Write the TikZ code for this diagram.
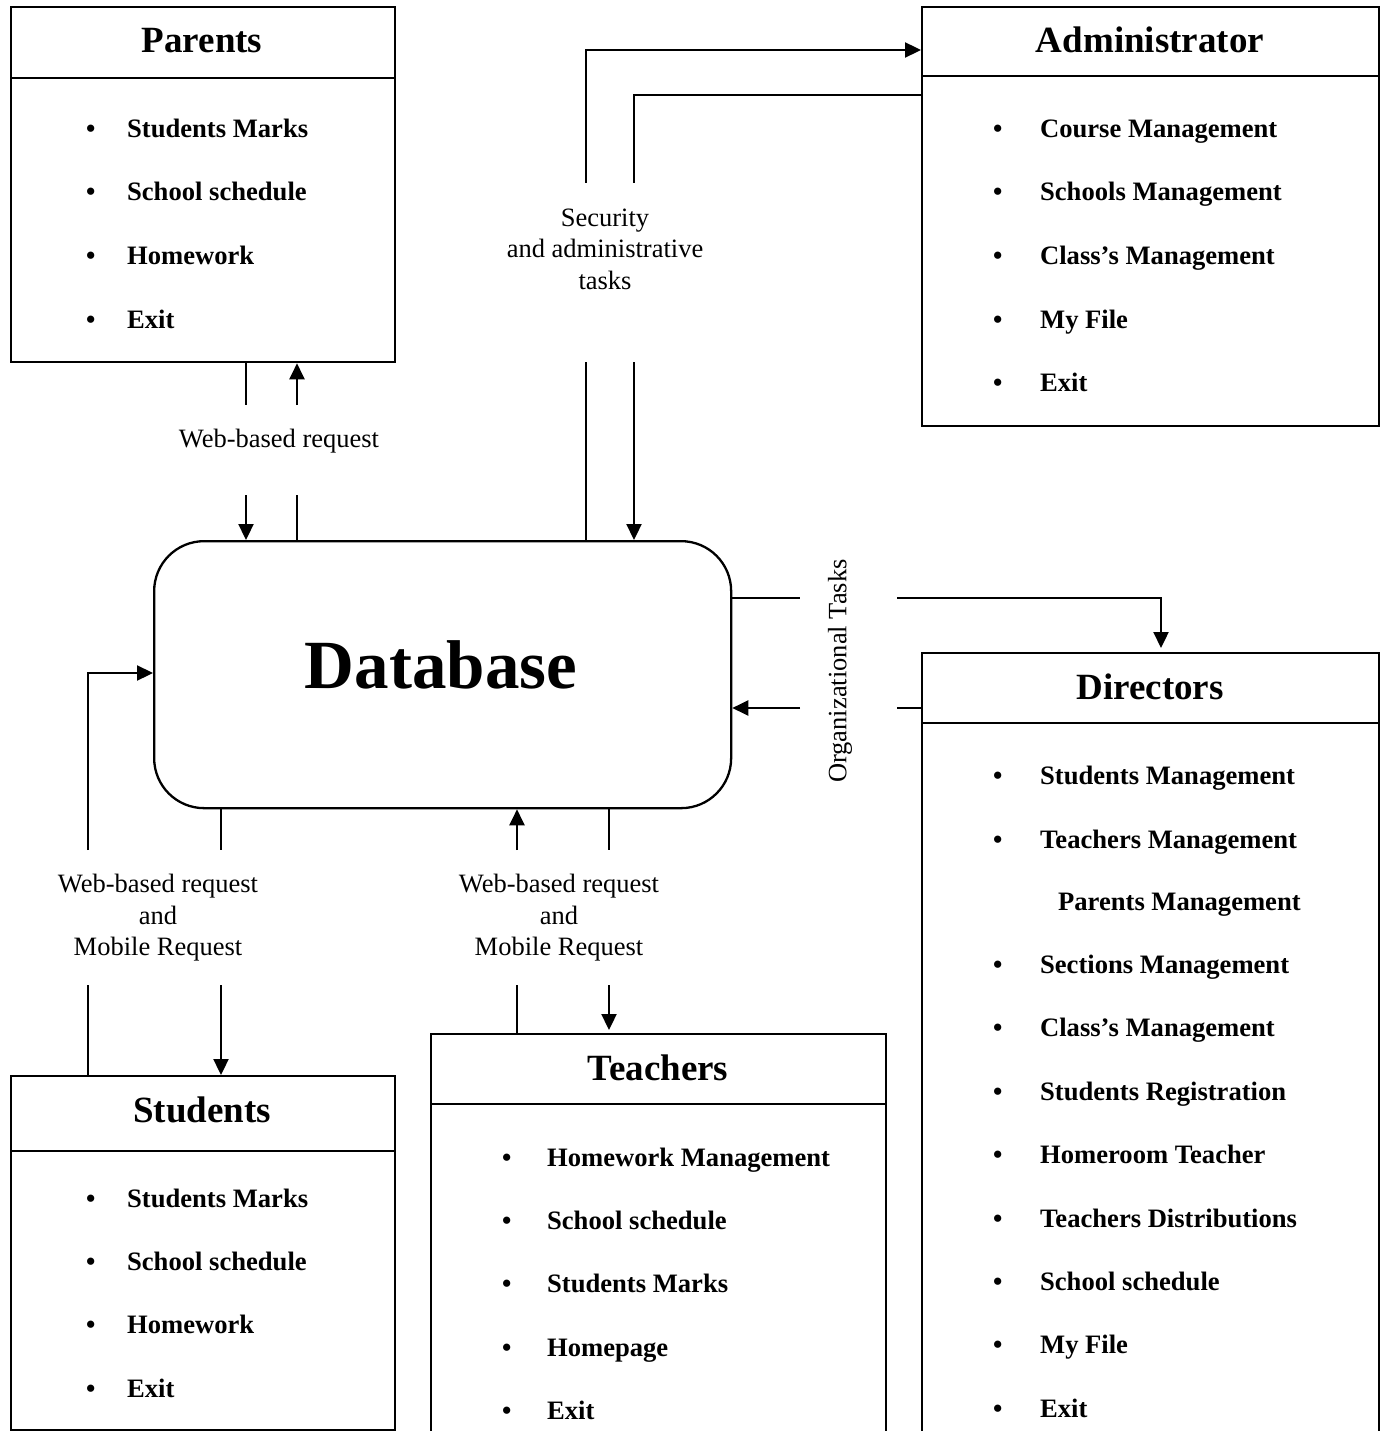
\documentclass[tikz,border=0pt]{standalone}
\usepackage{fontspec}
\setmainfont{Liberation Serif}
\usetikzlibrary{arrows.meta}

\newcommand{\blt}[1]{\makebox[#1][l]{\textbullet}}

\begin{document}
\begin{tikzpicture}[x=1pt,y=-1pt,line width=2.3pt]

\tikzset{box/.style = {draw, line width=2.3pt, inner sep=0pt, anchor=north west}}
\tikzset{head/.style = {anchor=base, font=\fontsize{37}{44}\selectfont\bfseries}}
\tikzset{item/.style = {anchor=base west, inner sep=0pt, font=\fontsize{26.6}{32}\selectfont\bfseries}}
\tikzset{lbl/.style = {align=center, inner sep=0pt, font=\fontsize{26.5}{31.5}\selectfont}}
\tikzset{arc/.style = {-{Triangle[length=16pt,width=15pt]}}}

\clip (0,0) rectangle (1384,1431);

% boxes
\node[box, minimum width=384pt, minimum height=355pt] (parents) at (10,6) {};
\node[box, minimum width=457pt, minimum height=419pt] (admin) at (921,6) {};
\node[box, minimum width=577pt, minimum height=267pt, rounded corners=50pt] (db) at (153,540) {};
\node[box, minimum width=457pt, minimum height=820pt] (dir) at (921,652) {};
\node[box, minimum width=384pt, minimum height=354pt] (stu) at (10,1075) {};
\node[box, minimum width=455pt, minimum height=440pt] (tea) at (430,1033) {};

\draw ([yshift=-72pt]parents.north west) -- ([yshift=-72pt]parents.north east);
\draw ([yshift=-70pt]admin.north west) -- ([yshift=-70pt]admin.north east);
\draw ([yshift=-71pt]dir.north west) -- ([yshift=-71pt]dir.north east);
\draw ([yshift=-76pt]stu.north west) -- ([yshift=-76pt]stu.north east);
\draw ([yshift=-71pt]tea.north west) -- ([yshift=-71pt]tea.north east);

% titles
\node[head] (parents-t) at (202,53) {Parents};
\node[head] (admin-t) at (1150,53) {Administrator};
\node[head] (dir-t) at (1150,699) {Directors};
\node[head] (stu-t) at (202,1122) {Students};
\node[head] (tea-t) at (658,1080) {Teachers};
\node[anchor=base, font=\fontsize{69}{80}\selectfont\bfseries] (db-t) at (441,688) {Database};

% parents items
\node[item] (par1) at (85,138) {\blt{41pt}Students Marks};
\node[item] (par2) at (85,201) {\blt{41pt}School schedule};
\node[item] (par3) at (85,264) {\blt{41pt}Homework};
\node[item] (par4) at (85,328) {\blt{41pt}Exit};

% administrator items
\node[item] (adm1) at (992,138) {\blt{47pt}Course Management};
\node[item] (adm2) at (992,201) {\blt{47pt}Schools Management};
\node[item] (adm3) at (992,264) {\blt{47pt}Class’s Management};
\node[item] (adm4) at (992,328) {\blt{47pt}My File};
\node[item] (adm5) at (992,391) {\blt{47pt}Exit};

% directors items
\node[item] (dir1) at (992,784) {\blt{47pt}Students Management};
\node[item] (dir2) at (992,848) {\blt{47pt}Teachers Management};
\node[item] (dir3) at (1057,910) {Parents Management};
\node[item] (dir4) at (992,973) {\blt{47pt}Sections Management};
\node[item] (dir5) at (992,1036) {\blt{47pt}Class’s Management};
\node[item] (dir6) at (992,1100) {\blt{47pt}Students Registration};
\node[item] (dir7) at (992,1163) {\blt{47pt}Homeroom Teacher};
\node[item] (dir8) at (992,1227) {\blt{47pt}Teachers Distributions};
\node[item] (dir9) at (992,1290) {\blt{47pt}School schedule};
\node[item] (dir10) at (992,1353) {\blt{47pt}My File};
\node[item] (dir11) at (992,1417) {\blt{47pt}Exit};

% students items
\node[item] (stu1) at (85,1207) {\blt{41pt}Students Marks};
\node[item] (stu2) at (85,1270) {\blt{41pt}School schedule};
\node[item] (stu3) at (85,1333) {\blt{41pt}Homework};
\node[item] (stu4) at (85,1397) {\blt{41pt}Exit};

% teachers items
\node[item] (tea1) at (501,1166) {\blt{45pt}Homework Management};
\node[item] (tea2) at (501,1229) {\blt{45pt}School schedule};
\node[item] (tea3) at (501,1292) {\blt{45pt}Students Marks};
\node[item] (tea4) at (501,1356) {\blt{45pt}Homepage};
\node[item] (tea5) at (501,1419) {\blt{45pt}Exit};

% labels
\node[lbl] (l-par) at (279,441) {Web-based request};
\node[lbl] (l-adm) at (605,249) {Security\\and administrative\\tasks};
\node[lbl, rotate=90] (l-dir) at (840,671) {Organizational Tasks};
\node[lbl] (l-stu) at (158,918) {Web-based request\\and\\Mobile Request};
\node[lbl] (l-tea) at (559,918) {Web-based request\\and\\Mobile Request};

% gap ends
\coordinate (pw1) at (246,405);
\coordinate (pw2) at (246,495);
\coordinate (pw3) at (297,405);
\coordinate (pw4) at (297,495);
\coordinate (sa1) at (586,183);
\coordinate (sa2) at (586,362);
\coordinate (sa3) at (634,183);
\coordinate (sa4) at (634,362);
\coordinate (sa5) at (586,50);
\coordinate (sa6) at (634,95);
\coordinate (od1) at (800,598);
\coordinate (od2) at (897,598);
\coordinate (od3) at (1161,598);
\coordinate (od4) at (897,708);
\coordinate (od5) at (800,708);
\coordinate (sm1) at (88,985);
\coordinate (sm2) at (88,850);
\coordinate (sm3) at (88,673);
\coordinate (sm4) at (221,850);
\coordinate (sm5) at (221,985);
\coordinate (tm1) at (517,985);
\coordinate (tm2) at (517,850);
\coordinate (tm3) at (609,850);
\coordinate (tm4) at (609,985);

% arcs
\draw (parents.south -| pw1) -- (pw1);
\draw[arc] (pw2) -- (pw2 |- db.north);
\draw[arc] (pw3) -- (parents.south -| pw3);
\draw (pw4) -- (pw4 |- db.north);

\draw (db.north -| sa2) -- (sa2);
\draw[arc] (sa1) -- (sa5) -- (sa5 -| admin.west);
\draw (admin.west |- sa6) -- (sa6) -- (sa3);
\draw[arc] (sa4) -- (sa4 |- db.north);

\draw (db.east |- od1) -- (od1);
\draw[arc] (od2) -- (od3) -- ([yshift=4pt]od3 |- dir.north);
\draw (dir.west |- od4) -- (od4);
\draw[arc] (od5) -- (od5 -| db.east);

\draw (stu.north -| sm1) -- (sm1);
\draw[arc] (sm2) -- (sm3) -- (sm3 -| db.west);
\draw (db.south -| sm4) -- (sm4);
\draw[arc] (sm5) -- (sm5 |- stu.north);

\draw (tea.north -| tm1) -- (tm1);
\draw[arc] (tm2) -- (tm2 |- db.south);
\draw (db.south -| tm3) -- (tm3);
\draw[arc] (tm4) -- ([yshift=3pt]tm4 |- tea.north);

\end{tikzpicture}
\end{document}
